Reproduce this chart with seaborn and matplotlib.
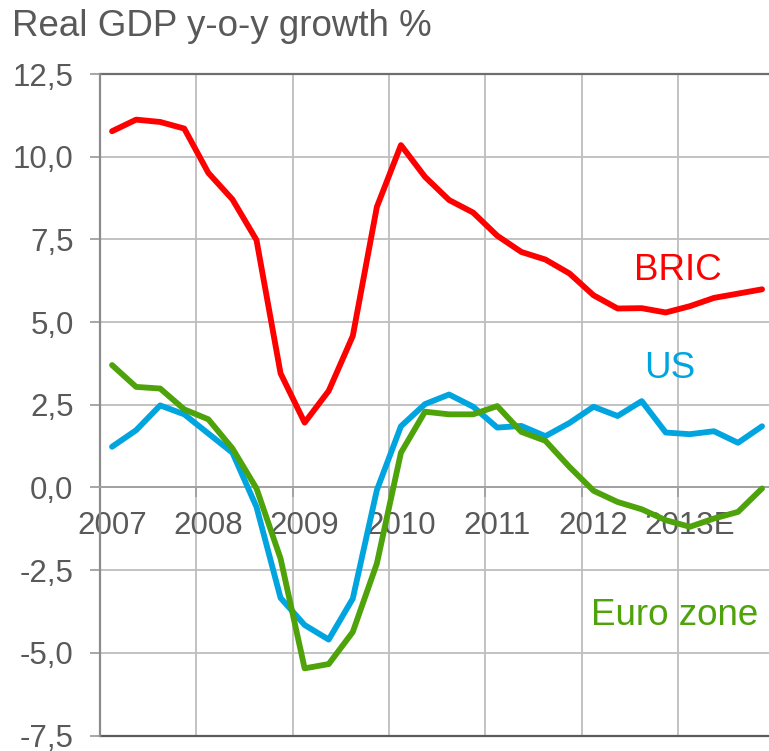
import matplotlib
matplotlib.use("Agg")
import matplotlib.pyplot as plt
import seaborn as sns
import pandas as pd
import numpy as np

# ---- data (quarterly, 2007Q1 .. 2013Q4E) ----
years = [2007, 2008, 2009, 2010, 2011, 2012, 2013]
year_labels = ["2007", "2008", "2009", "2010", "2011", "2012", "2013E"]
quarters_per_year = 4

bric = [10.77, 11.12, 11.05, 10.85, 9.51, 8.71, 7.48, 3.45,
        1.96, 2.92, 4.58, 8.48, 10.35, 9.39, 8.69, 8.31,
        7.61, 7.12, 6.89, 6.47, 5.81, 5.41, 5.42, 5.29,
        5.48, 5.73, 5.86, 5.99]
us = [1.23, 1.73, 2.48, 2.21, 1.63, 1.05, -0.59, -3.34,
      -4.16, -4.60, -3.36, -0.08, 1.85, 2.52, 2.81, 2.44,
      1.81, 1.86, 1.55, 1.95, 2.44, 2.16, 2.61, 1.66,
      1.61, 1.70, 1.35, 1.85]
euro = [3.70, 3.04, 2.99, 2.36, 2.06, 1.18, -0.03, -2.15,
        -5.47, -5.34, -4.37, -2.30, 1.05, 2.29, 2.21, 2.21,
        2.46, 1.68, 1.41, 0.62, -0.10, -0.44, -0.66, -0.99,
        -1.19, -0.94, -0.74, -0.03]
series_names = ["BRIC", "US", "Euro zone"]
series_colors = ["#FF0000", "#00A5E0", "#4EA20A"]
yticks = [-7.5, -5.0, -2.5, 0.0, 2.5, 5.0, 7.5, 10.0, 12.5]

# quarter midpoints
xq = [y + (q + 0.5) / quarters_per_year for y in years for q in range(quarters_per_year)]
df = pd.concat([
    pd.DataFrame({"x": xq, "value": vals, "series": name})
    for name, vals in zip(series_names, [bric, us, euro])
])

sns.set_theme(style="white")
plt.rcParams["font.family"] = ["Liberation Sans", "DejaVu Sans"]

W, H = 769, 751
fig = plt.figure(figsize=(W / 100, H / 100), dpi=100)
left_px, right_px, top_px, bot_px = 100, 769, 74, 735.5
ax = fig.add_axes([left_px / W, 1 - bot_px / H, (right_px - left_px) / W, (bot_px - top_px) / H])

x_right = 2007 + (right_px - left_px) / 96.3
ax.set_xlim(2007, x_right)
ax.set_ylim(-7.5, 12.5)

grid_c = "#BDBDBD"
for v in yticks:
    if v in (-7.5, 12.5, 0.0):
        continue
    ax.axhline(v, color=grid_c, lw=1.3, zorder=0)
for y in years[1:]:
    ax.axvline(y, color=grid_c, lw=1.3, zorder=0)

sns.lineplot(data=df, x="x", y="value", hue="series", palette=dict(zip(series_names, series_colors)),
             lw=4.2, ax=ax, legend=False, zorder=3)
ax.set_xlabel("")
ax.set_ylabel("")

for s in ["top", "right", "bottom", "left"]:
    ax.spines[s].set_visible(False)
ax.spines["left"].set_visible(True)
ax.spines["left"].set_color("#8C8C8C")
ax.spines["left"].set_linewidth(1.6)
ax.spines["bottom"].set_visible(True)
ax.spines["bottom"].set_position(("data", 0))
ax.spines["bottom"].set_color("#A0A0A0")
ax.spines["bottom"].set_linewidth(1.4)
ax.axhline(12.5, color="#6E6E6E", lw=1.6, clip_on=False, zorder=2)
ax.axhline(-7.5, color="#5A5A5A", lw=1.6, clip_on=False, zorder=2)

ax.set_yticks(yticks)
ax.set_yticklabels([f"{v:.1f}".replace(".", ",") for v in yticks])
ax.tick_params(axis="y", which="major", left=True, length=7, width=1.3, color="#A0A0A0",
               pad=12, labelsize=22.5, labelcolor="#595959")

ax.set_xticks(years)
ax.set_xticklabels([""] * len(years))
ax.set_xticks([y + 0.125 for y in years], minor=True)
ax.set_xticklabels(year_labels, minor=True)
ax.tick_params(axis="x", which="major", bottom=True, length=7, width=1.3, color="#A0A0A0")
ax.tick_params(axis="x", which="minor", bottom=False, length=0, pad=17, labelsize=22.5,
               labelcolor="#595959")

ax.text(2013.0, 6.27, "BRIC", color=series_colors[0], fontsize=26.5, ha="center", va="baseline", zorder=4)
ax.text(2012.92, 3.30, "US", color=series_colors[1], fontsize=26.5, ha="center", va="baseline", zorder=4)
ax.text(2012.97, -4.16, "Euro zone", color=series_colors[2], fontsize=26.5, ha="center", va="baseline", zorder=4)

fig.text(12 / W, 1 - 36 / H, "Real GDP y-o-y growth %", fontsize=26.5, color="#595959",
         ha="left", va="baseline")

fig.savefig("out.png", dpi=100)
